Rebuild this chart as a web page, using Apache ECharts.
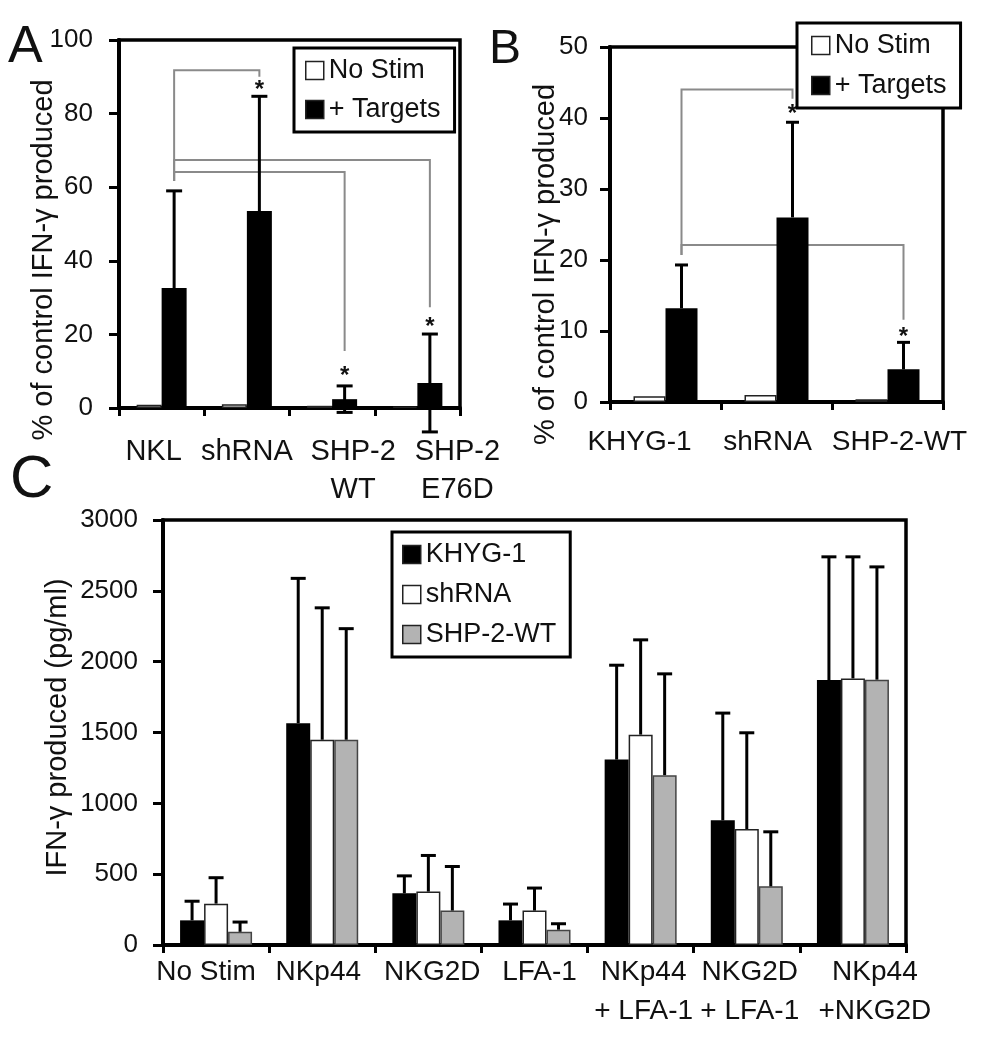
<!DOCTYPE html>
<html>
<head>
<meta charset="utf-8">
<title>IFN-γ production</title>
<script src="https://cdn.jsdelivr.net/npm/echarts@6/dist/echarts.min.js"></script>
<style>
  html, body { margin: 0; background: #fff; }
  #chart { width: 987px; height: 1050px; }
</style>
</head>
<body>
<div id="chart"></div>
<script>
/* ---- panel A : NKL lines, % of control IFN-γ ---- */
const catsA = ['NKL', 'shRNA', 'SHP-2\nWT', 'SHP-2\nE76D'];
const noStimA = [0.9, 1.0, 0.6, 0.4];
const targetsA = [32.6, 53.5, 2.4, 6.8];
const targetsErrA = [26.4, 31.2, 3.6, 13.3];
// [from, to, bracket height, left foot, right foot, asterisk]
const bracketsA = [
  [0, 1, 91.8, 61.7, 90.0, 88.0],
  [0, 2, 64.1, 61.7, 15.5, 10.3],
  [0, 3, 67.4, 61.7, 27.4, 23.6],
];

/* ---- panel B : KHYG-1 lines ---- */
const catsB = ['KHYG-1', 'shRNA', 'SHP-2-WT'];
const noStimB = [0.8, 1.0, 0.4];
const targetsB = [13.2, 26.0, 4.6];
const targetsErrB = [6.1, 13.4, 3.8];
const bracketsB = [
  [0, 1, 44.0, 20.7, 42.7, 41.3],
  [0, 2, 22.1, 20.7, 11.6, 9.9],
];

/* ---- panel C : IFN-γ pg/ml per stimulus ---- */
const catsC = ['No Stim', 'NKp44', 'NKG2D', 'LFA-1', 'NKp44\n+ LFA-1', 'NKG2D\n+ LFA-1', 'NKp44\n+NKG2D'];
const khyg = [174, 1566, 365, 174, 1309, 880, 1870];
const khygErr = [135, 1022, 123, 115, 666, 757, 870];
const shrna = [292, 1449, 377, 243, 1485, 819, 1882];
const shrnaErr = [183, 931, 255, 159, 669, 679, 858];
const shp2 = [93, 1449, 243, 108, 1199, 414, 1873];
const shp2Err = [69, 784, 311, 42, 715, 385, 796];

// label nudges (px) — the original labels are hand-placed
const nudgeA = [-8, 0, 21, 40];
const nudgeB = [-26, -9, 12];
const nudgeC = [-10, -4, 4, 5, 3, 3, 22];

const FONT = '"Liberation Sans", Arial, sans-serif';
const INK = '#111';
const BAR_A = 25, BAR_B = 32, BAR_C = 24;

const whiteBar = { color: '#fff', borderColor: '#222', borderWidth: 1.5 };
const blackBar = { color: '#000' };
const grayBar = { color: '#b3b3b3', borderColor: '#444', borderWidth: 1.5 };

function catLabel(cats, fs, lh, margin, shifts) {
  const rich = {};
  cats.forEach((c, i) => {
    const s = shifts[i] || 0;
    rich['n' + i] = {
      fontSize: fs, lineHeight: lh, fontFamily: FONT, color: INK,
      padding: s >= 0 ? [0, 0, 0, 2 * s] : [0, -2 * s, 0, 0],
    };
  });
  return {
    interval: 0, margin, fontSize: fs, lineHeight: lh, fontFamily: FONT, color: INK, rich,
    formatter: (v, i) => v.split('\n').map((l) => `{n${i}|${l}}`).join('\n'),
  };
}

function xCat(gi, cats, fs, lh, margin, shifts) {
  return {
    type: 'category', gridIndex: gi, data: cats,
    axisLine: { lineStyle: { color: '#000', width: 4 } },
    axisTick: { show: true, length: 8, lineStyle: { color: '#000', width: 3 } },
    axisLabel: catLabel(cats, fs, lh, margin, shifts),
  };
}

// shift = how far the rotated title sits below the plot's middle
function yVal(gi, max, step, margin, name, nameGap, shift) {
  return {
    type: 'value', gridIndex: gi, min: 0, max, interval: step,
    name, nameLocation: 'middle', nameGap, nameMoveOverlap: false,
    nameTextStyle: {
      fontSize: 29, fontFamily: FONT, color: INK,
      padding: shift > 0 ? [0, 2 * shift, 0, 0] : [0, 0, 0, -2 * shift],
    },
    axisLine: { show: true, lineStyle: { color: '#000', width: 4 } },
    axisTick: { show: true, length: 10, lineStyle: { color: '#000', width: 3 } },
    axisLabel: { fontSize: 26, fontFamily: FONT, color: INK, margin, formatter: (v) => String(v) },
    splitLine: { show: false },
  };
}

function bars(gi, name, data, w, style) {
  return {
    name, type: 'bar', xAxisIndex: gi, yAxisIndex: gi, data,
    barWidth: w, barGap: '0%', itemStyle: style, z: 3, silent: true,
  };
}

// error bars: slot = position of the bar inside its category group
function errBars(gi, vals, errs, slot, nSlots, barW, capW, both) {
  return {
    type: 'custom', xAxisIndex: gi, yAxisIndex: gi, z: 5, silent: true,
    data: vals.map((v, i) => [i, v, errs[i]]),
    renderItem(params, api) {
      const i = api.value(0), v = api.value(1), e = api.value(2);
      const off = (slot - (nSlots - 1) / 2) * barW;
      const top = api.coord([i, v + e]);
      const bot = api.coord([i, both ? v - e : v]);
      const x = top[0] + off;
      const st = { stroke: '#000', lineWidth: 3 };
      const kids = [
        { type: 'line', shape: { x1: x, y1: top[1], x2: x, y2: bot[1] }, style: st },
        { type: 'line', shape: { x1: x - capW / 2, y1: top[1], x2: x + capW / 2, y2: top[1] }, style: st },
      ];
      if (both) kids.push({ type: 'line', shape: { x1: x - capW / 2, y1: bot[1], x2: x + capW / 2, y2: bot[1] }, style: st });
      return { type: 'group', children: kids };
    },
  };
}

// significance brackets, drawn to the "+ Targets" bar (right-hand slot)
function brackets(gi, list, barW) {
  return {
    type: 'custom', xAxisIndex: gi, yAxisIndex: gi, z: 1, silent: true,
    data: list,
    renderItem(params, api) {
      const off = barW / 2;
      const a = api.coord([api.value(0), api.value(3)]);
      const h1 = api.coord([api.value(0), api.value(2)]);
      const h2 = api.coord([api.value(1), api.value(2)]);
      const b = api.coord([api.value(1), api.value(4)]);
      const s = api.coord([api.value(1), api.value(5)]);
      return {
        type: 'group',
        children: [
          {
            type: 'polyline',
            shape: { points: [[a[0] + off, a[1]], [h1[0] + off, h1[1]], [h2[0] + off, h2[1]], [b[0] + off, b[1]]] },
            style: { stroke: '#8a8a8a', lineWidth: 2, fill: null },
          },
          {
            type: 'text',
            style: { text: '*', x: s[0] + off, y: s[1] + 6, textAlign: 'center', textVerticalAlign: 'middle', font: `bold 24px ${FONT}`, fill: INK },
          },
        ],
      };
    },
  };
}

function legend(names, left, top, gap, padding) {
  return {
    data: names, orient: 'vertical', left, top, icon: 'rect',
    itemWidth: 18, itemHeight: 18, itemGap: gap, padding,
    borderColor: '#000', borderWidth: 3, backgroundColor: '#fff',
    itemStyle: { borderColor: '#222', borderWidth: 1.5 },
    textStyle: { fontSize: 27, lineHeight: 27, fontFamily: FONT, color: INK },
    selectedMode: false,
  };
}

const chart = echarts.init(document.getElementById('chart'));
chart.setOption({
  animation: false,
  backgroundColor: '#fff',
  grid: [
    { left: 119, top: 40, width: 341, height: 368, show: true, borderColor: '#000', borderWidth: 3.5 },
    { left: 610, top: 47, width: 333, height: 355, show: true, borderColor: '#000', borderWidth: 3.5 },
    { left: 163, top: 520, width: 743, height: 425, show: true, borderColor: '#000', borderWidth: 3.5 },
  ],
  xAxis: [
    xCat(0, catsA, 29, 38, 25, nudgeA),
    xCat(1, catsB, 28, 38, 21, nudgeB),
    xCat(2, catsC, 28, 39, 8, nudgeC),
  ],
  yAxis: [
    yVal(0, 100, 20, 26, '% of control IFN-γ produced', 61, 36),
    yVal(1, 50, 10, 22, '% of control IFN-γ produced', 50, 40),
    yVal(2, 3000, 500, 25, 'IFN-γ produced (pg/ml)', 91, -5),
  ],
  legend: [
    legend(['No Stim', '+ Targets'], 294, 48, 12, [9, 14, 9, 11]),
    legend(['No Stim', '+ Targets'], 797, 23, 13, [9, 14, 9, 14]),
    legend(['KHYG-1', 'shRNA', 'SHP-2-WT'], 392, 532, 13, [9, 14, 9, 10]),
  ],
  graphic: [
    { type: 'text', left: 8, top: 22, style: { text: 'A', font: `52px ${FONT}`, fill: INK } },
    { type: 'text', left: 489, top: 26, style: { text: 'B', font: `48px ${FONT}`, fill: INK } },
    { type: 'text', left: 10, top: 450, style: { text: 'C', font: `60px ${FONT}`, fill: INK } },
  ],
  series: [
    brackets(0, bracketsA, BAR_A),
    bars(0, 'No Stim', noStimA, BAR_A, whiteBar),
    bars(0, '+ Targets', targetsA, BAR_A, blackBar),
    errBars(0, targetsA, targetsErrA, 1, 2, BAR_A, 16, true),

    brackets(1, bracketsB, BAR_B),
    bars(1, 'No Stim', noStimB, BAR_B, whiteBar),
    bars(1, '+ Targets', targetsB, BAR_B, blackBar),
    errBars(1, targetsB, targetsErrB, 1, 2, BAR_B, 13, false),

    bars(2, 'KHYG-1', khyg, BAR_C, blackBar),
    bars(2, 'shRNA', shrna, BAR_C, whiteBar),
    bars(2, 'SHP-2-WT', shp2, BAR_C, grayBar),
    errBars(2, khyg, khygErr, 0, 3, BAR_C, 15, false),
    errBars(2, shrna, shrnaErr, 1, 3, BAR_C, 15, false),
    errBars(2, shp2, shp2Err, 2, 3, BAR_C, 15, false),
  ],
});
window.addEventListener('resize', () => chart.resize());
</script>
</body>
</html>
